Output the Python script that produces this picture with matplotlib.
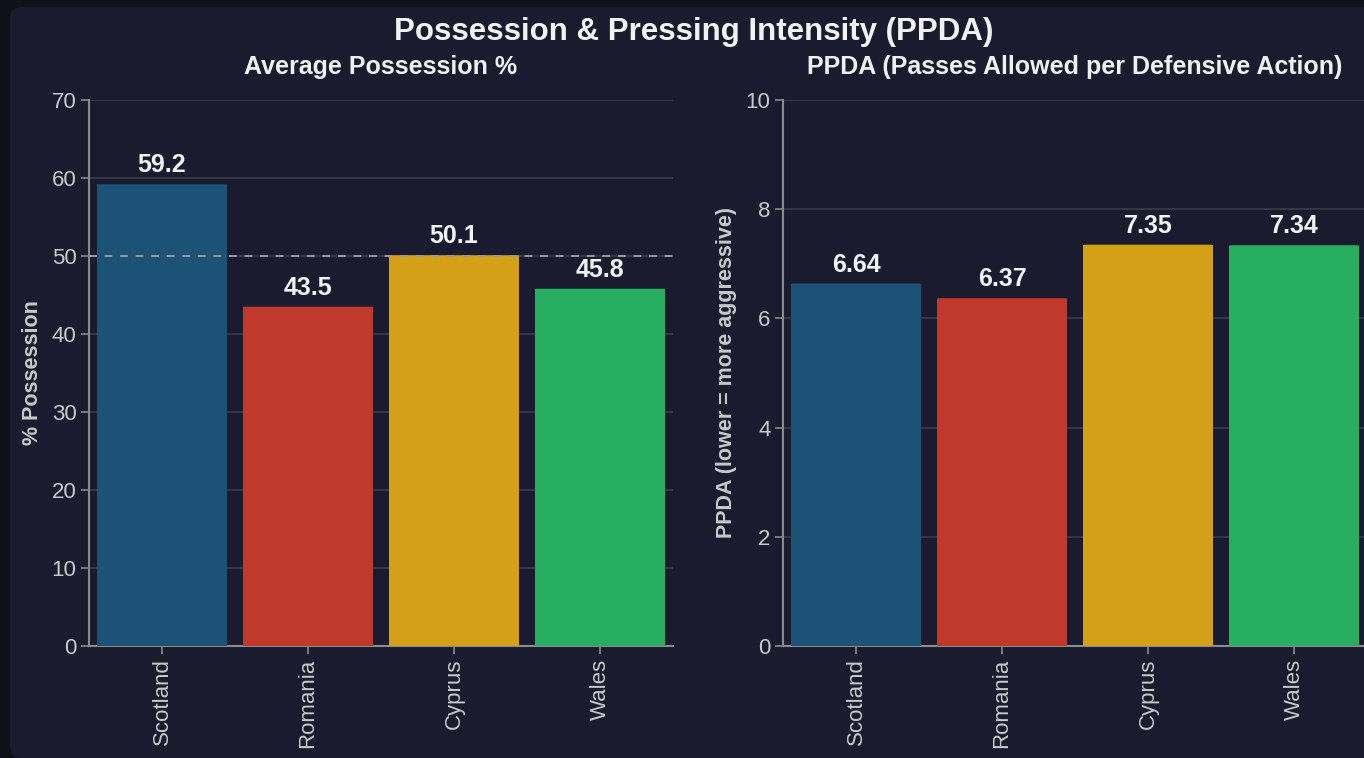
import matplotlib
matplotlib.use("Agg")
import matplotlib.pyplot as plt
from matplotlib.patches import FancyBboxPatch

plt.rcParams['font.family'] = ['Liberation Sans', 'DejaVu Sans']

teams = ["Scotland", "Romania", "Cyprus", "Wales"]
possession = [59.2, 43.5, 50.1, 45.8]
ppda = [6.64, 6.37, 7.35, 7.34]
ppda_labels = ["6.64", "6.37", "7.35", "7.34"]
team_colors = ["#1b5276", "#c0392b", "#d4a017", "#27ae60"]

OUTER_BG = "#0e1117"
PANEL_BG = "#1a1b2e"
GRID = "#3b3c48"
SPINE = "#8a8a8a"
TICK_TXT = "#c9c9c9"

W, H = 1364, 758
fig = plt.figure(figsize=(W / 100, H / 100), dpi=100)
fig.patch.set_facecolor(OUTER_BG)

# rounded dashboard panel behind both charts
panel = FancyBboxPatch((10 / W, 0), (W - 10) / W + 0.02, (H - 7) / H,
                       boxstyle="round,pad=0,rounding_size=0.008",
                       transform=fig.transFigure, facecolor=PANEL_BG,
                       edgecolor="none", zorder=-5, mutation_aspect=W / H)
fig.patches.append(panel)

fig.text(694 / W, 1 - 32 / H, "Possession & Pressing Intensity (PPDA)",
         ha="center", va="center", color="#f2f2f2", fontsize=22.5, fontweight="bold")

ax_w = 584 / W
ax_h = (646 - 100) / H
ax_b = 1 - 646 / H
ax1 = fig.add_axes([89 / W, ax_b, ax_w, ax_h])
ax2 = fig.add_axes([783 / W, ax_b, ax_w, ax_h])


def rounded_bars(ax, values, ymax, radius_px=4):
    x_px = ax_w * W / 4.0          # pixels per x unit
    y_px = ax_h * H / ymax         # pixels per y unit
    rx = radius_px / x_px
    aspect = x_px / y_px
    width = 130 / 146
    ry = radius_px / y_px
    for i, (v, c) in enumerate(zip(values, team_colors)):
        p = FancyBboxPatch((i - width / 2, -ry * 2), width, v + ry * 2,
                           boxstyle=f"round,pad=0,rounding_size={rx}",
                           mutation_aspect=1 / aspect,
                           facecolor=c, edgecolor="none", zorder=3)
        ax.add_patch(p)


def style_axes(ax, ymax, yticks, title, ylabel):
    ax.set_facecolor("none")
    ax.set_xlim(-0.5, 3.5)
    ax.set_ylim(0, ymax)
    ax.set_yticks(yticks)
    ax.set_xticks(range(len(teams)))
    ax.set_xticklabels(teams, rotation=90)
    for s in ("top", "right"):
        ax.spines[s].set_visible(False)
    for s in ("left", "bottom"):
        ax.spines[s].set_color(SPINE)
        ax.spines[s].set_linewidth(1.5)
    ax.tick_params(axis="both", colors=SPINE, labelcolor=TICK_TXT,
                   labelsize=16, length=6, width=1.2, pad=3)
    ax.yaxis.grid(True, color=GRID, linewidth=1.2, zorder=1)
    ax.set_axisbelow(True)
    ax.set_title(title, color="#f0f0f0", fontsize=18, fontweight="bold", pad=18.5)
    ax.set_ylabel(ylabel, color=TICK_TXT, fontsize=15.5, fontweight="bold", labelpad=6.5)


style_axes(ax1, 70, range(0, 71, 10), "Average Possession %", "% Possession")
rounded_bars(ax1, possession, 70)
ax1.axhline(50, color="#9a9a9a", linestyle=(0, (4, 4)), linewidth=1.4, zorder=4)
for i, v in enumerate(possession):
    ax1.annotate(f"{v:.1f}", (i, v), xytext=(0, 5), textcoords="offset points",
                 ha="center", va="bottom", color="#f2f2f2", fontsize=18,
                 fontweight="bold", zorder=5)

style_axes(ax2, 10, range(0, 11, 2), "PPDA (Passes Allowed per Defensive Action)",
           "PPDA (lower = more aggressive)")
rounded_bars(ax2, ppda, 10)
for i, (v, t) in enumerate(zip(ppda, ppda_labels)):
    ax2.annotate(t, (i, v), xytext=(0, 5), textcoords="offset points",
                 ha="center", va="bottom", color="#f2f2f2", fontsize=18,
                 fontweight="bold", zorder=5)

fig.savefig("out.png", dpi=100, facecolor=OUTER_BG)
